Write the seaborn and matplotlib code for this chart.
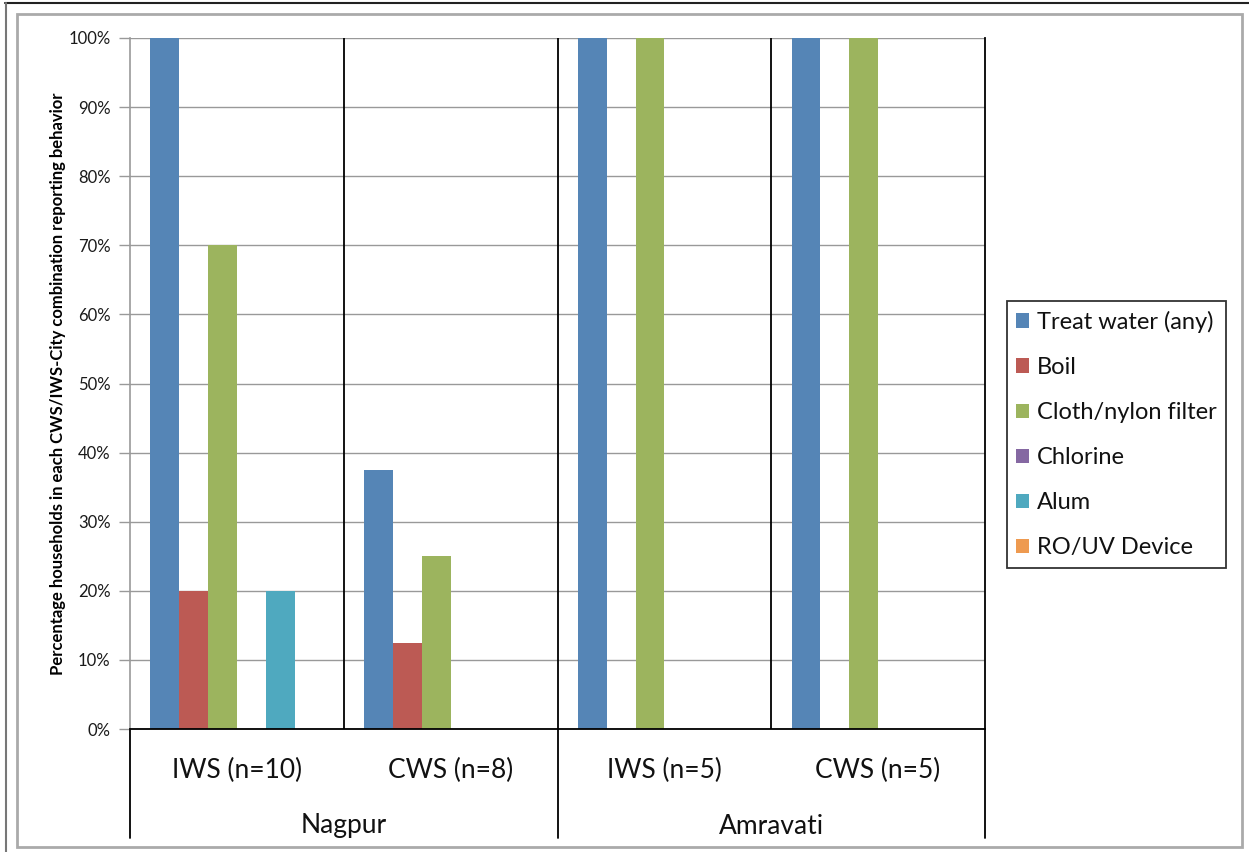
import matplotlib
matplotlib.use("Agg")
import matplotlib.pyplot as plt
import matplotlib.transforms as mtransforms
from matplotlib.patches import Rectangle
from matplotlib.lines import Line2D
import pandas as pd
import seaborn as sns

# Survey results: share of households reporting each treatment behaviour
categories = ["IWS (n=10)", "CWS (n=8)", "IWS (n=5)", "CWS (n=5)"]
cities = ["Nagpur", "Amravati"]
series = ["Treat water (any)", "Boil", "Cloth/nylon filter", "Chlorine", "Alum", "RO/UV Device"]
treat_any = [100, 37.5, 100, 100]
boil = [20, 12.5, 0, 0]
cloth_filter = [70, 25, 100, 100]
chlorine = [0, 0, 0, 0]
alum = [20, 0, 0, 0]
ro_uv = [0, 0, 0, 0]
yticks = [0, 10, 20, 30, 40, 50, 60, 70, 80, 90, 100]

colors = ["#5585B6", "#BC5A54", "#9CB45E", "#8568A2", "#4FA9BF", "#EE9A50"]

values = [treat_any, boil, cloth_filter, chlorine, alum, ro_uv]
rows = []
for name, vals in zip(series, values):
    for cat, v in zip(categories, vals):
        rows.append({"category": cat, "series": name, "value": v / 100})
df = pd.DataFrame(rows)

sns.set_theme(style="white")
plt.rcParams["font.family"] = ["Lato", "DejaVu Sans"]

fig = plt.figure(figsize=(12.49, 8.52), dpi=100)
W, H = 1249, 852
ax = fig.add_axes([130 / W, 1 - 729 / H, (985 - 130) / W, (729 - 38) / H])

sns.barplot(data=df, x="category", y="value", hue="series", order=categories,
            hue_order=series, palette=colors, width=0.81, saturation=1,
            edgecolor="none", linewidth=0, ax=ax, legend=True)

ax.set_xlim(-0.5, len(categories) - 0.5)
ax.set_ylim(0, 1)
ax.set_yticks([t / 100 for t in yticks])
ax.set_yticklabels([f"{t}%" for t in yticks], fontsize=12, color="#1a1a1a")
ax.yaxis.grid(True, color="#999999", linewidth=1)
ax.set_axisbelow(True)
ax.tick_params(axis="y", which="major", left=True, length=8, width=1,
               color="#999999", pad=6)
ax.set_xticks([])
ax.set_xlabel("")
ax.set_ylabel("Percentage households in each CWS/IWS-City combination reporting behavior",
              fontsize=12, fontweight="bold", color="black")
ax.yaxis.set_label_coords((66 - 130) / (985 - 130), 0.5)

ax.spines["top"].set_visible(False)
ax.spines["left"].set_color("#999999")
ax.spines["left"].set_linewidth(1.2)
ax.spines["bottom"].set_color("black")
ax.spines["bottom"].set_linewidth(1.3)
ax.spines["right"].set_color("black")
ax.spines["right"].set_linewidth(1.3)

# Group separators inside the plot
for xb in [0.5, 1.5, 2.5]:
    ax.axvline(xb, color="black", linewidth=1.3, zorder=1)

# Multi-level category axis below the plot
trans = mtransforms.blended_transform_factory(ax.transData, ax.transAxes)
below = -(838 - 729) / (729 - 38)
for xb in [-0.5, 1.5, 3.5]:
    ax.add_line(Line2D([xb, xb], [0, below], transform=trans, color="black",
                       linewidth=1.3, clip_on=False))
for i, cat in enumerate(categories):
    ax.text(i, -(770 - 729) / (729 - 38), cat, transform=trans, ha="center",
            va="center", fontsize=19, color="#111111")
for j, city in enumerate(cities):
    ax.text(2 * j + 0.5, -(826 - 729) / (729 - 38), city, transform=trans,
            ha="center", va="center", fontsize=19, color="#111111")

# Legend on the right
handles, labels = ax.get_legend_handles_labels()
ax.legend(handles, labels, loc="center left",
          bbox_to_anchor=(1007 / W, 1 - 434.5 / H), bbox_transform=fig.transFigure,
          frameon=True, fancybox=False, edgecolor="black", fontsize=17,
          handlelength=0.55, handleheight=0.55, handletextpad=0.3,
          labelspacing=1.02, borderpad=0.4, borderaxespad=0)
leg = ax.get_legend()
leg.get_frame().set_linewidth(1.3)
for t in leg.get_texts():
    t.set_color("#111111")

# Chart frame
fig.add_artist(Rectangle((17 / W, 1 - 847 / H), (1242 - 17) / W, (847 - 14) / H,
                         transform=fig.transFigure, fill=False,
                         edgecolor="#AAAAAA", linewidth=2))
fig.add_artist(Line2D([5 / W, 1], [1 - 3 / H, 1 - 3 / H], transform=fig.transFigure,
                      color="#222222", linewidth=1.5))
fig.add_artist(Line2D([6 / W, 6 / W], [0, 1 - 3 / H], transform=fig.transFigure,
                      color="#777777", linewidth=1.5))

fig.savefig("out.png", dpi=100, facecolor="white")
